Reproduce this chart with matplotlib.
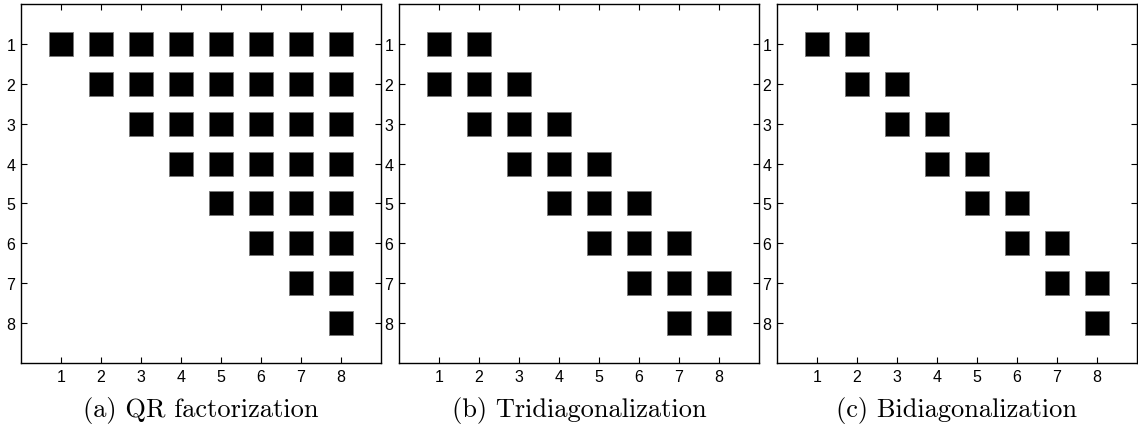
import numpy as np
import matplotlib.pyplot as plt

ticks = [1, 2, 3, 4, 5, 6, 7, 8]

qr_pattern = np.array([
    [1, 1, 1, 1, 1, 1, 1, 1],
    [0, 1, 1, 1, 1, 1, 1, 1],
    [0, 0, 1, 1, 1, 1, 1, 1],
    [0, 0, 0, 1, 1, 1, 1, 1],
    [0, 0, 0, 0, 1, 1, 1, 1],
    [0, 0, 0, 0, 0, 1, 1, 1],
    [0, 0, 0, 0, 0, 0, 1, 1],
    [0, 0, 0, 0, 0, 0, 0, 1],
])

tri_pattern = np.array([
    [1, 1, 0, 0, 0, 0, 0, 0],
    [1, 1, 1, 0, 0, 0, 0, 0],
    [0, 1, 1, 1, 0, 0, 0, 0],
    [0, 0, 1, 1, 1, 0, 0, 0],
    [0, 0, 0, 1, 1, 1, 0, 0],
    [0, 0, 0, 0, 1, 1, 1, 0],
    [0, 0, 0, 0, 0, 1, 1, 1],
    [0, 0, 0, 0, 0, 0, 1, 1],
])

bi_pattern = np.array([
    [1, 1, 0, 0, 0, 0, 0, 0],
    [0, 1, 1, 0, 0, 0, 0, 0],
    [0, 0, 1, 1, 0, 0, 0, 0],
    [0, 0, 0, 1, 1, 0, 0, 0],
    [0, 0, 0, 0, 1, 1, 0, 0],
    [0, 0, 0, 0, 0, 1, 1, 0],
    [0, 0, 0, 0, 0, 0, 1, 1],
    [0, 0, 0, 0, 0, 0, 0, 1],
])

captions = ['(a) QR factorization', '(b) Tridiagonalization', '(c) Bidiagonalization']
patterns = [qr_pattern, tri_pattern, bi_pattern]

fig = plt.figure(figsize=(11.38, 4.27), dpi=100)
W, H = 1138, 427
lefts = [21, 399, 777]

for left, pat, cap in zip(lefts, patterns, captions):
    ax = fig.add_axes([left / W, 1 - 364 / H, 360 / W, 359 / H])
    rows, cols = np.nonzero(pat)
    ax.scatter(cols + 1, rows + 1, marker='s', s=300, c='black',
               edgecolors='#777777', linewidths=0.6)
    ax.set_xlim(0, 9)
    ax.set_ylim(9, 0)
    ax.set_xticks(ticks)
    ax.set_yticks(ticks)
    ax.tick_params(direction='in', top=True, right=True, length=4, width=0.8,
                   labelsize=11.5, pad=4)
    for lab in ax.get_xticklabels() + ax.get_yticklabels():
        lab.set_family(['Liberation Sans', 'DejaVu Sans'])
    for sp in ax.spines.values():
        sp.set_linewidth(1.0)
    ax.text(0.5, -0.13, cap, transform=ax.transAxes, ha='center', va='center',
            fontsize=19, family='cmr10')

fig.savefig('out.png', dpi=100)
